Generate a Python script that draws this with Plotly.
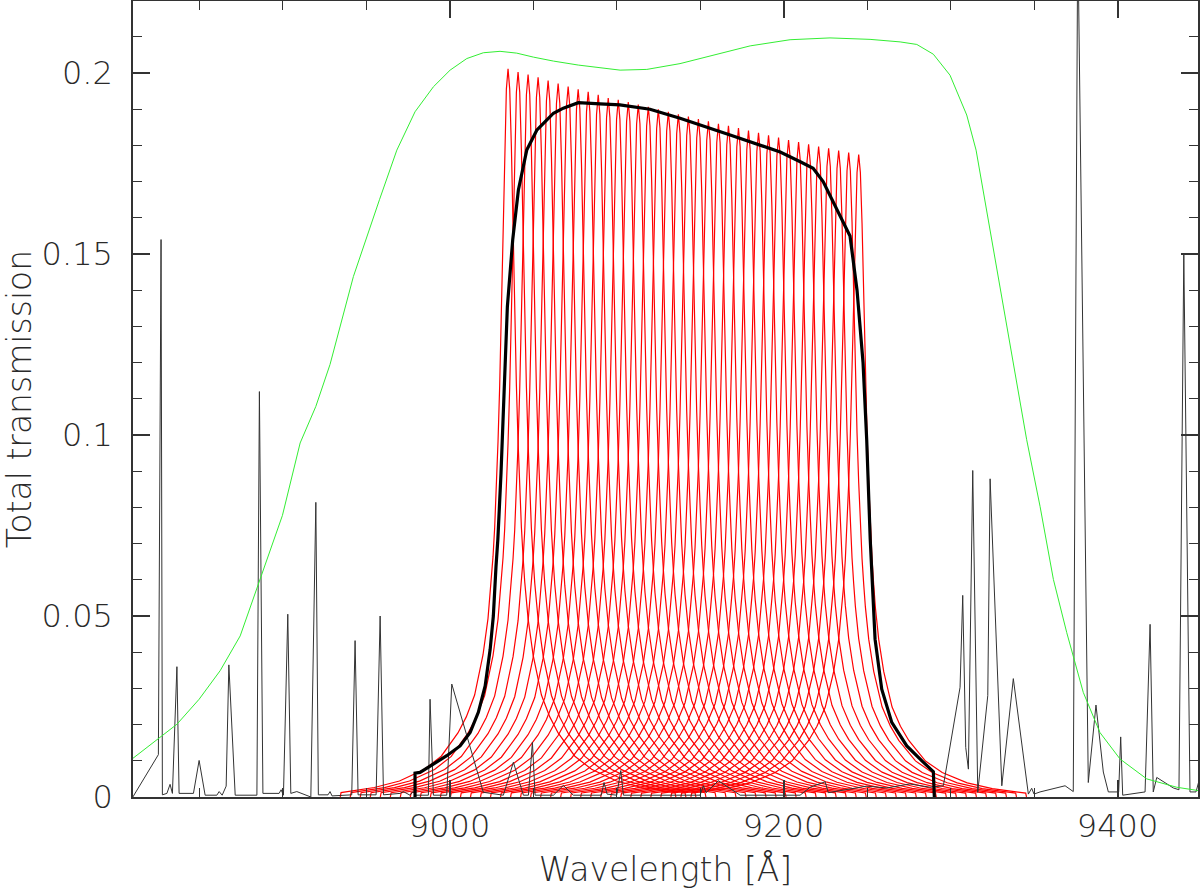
import plotly.graph_objects as go

# ---------------- data ----------------
# Sky emission spectrum (thin black line): wavelength [A], transmission-scaled value
sky_wave = [8810.3, 8825.6, 8827.2, 8828.0, 8830.7, 8832.6, 8834.0, 8836.7, 8838.0, 8846.6,
            8850.0, 8853.6, 8860.6, 8862.0, 8863.8, 8866.2, 8867.8, 8871.6, 8884.6, 8886.1,
            8888.2, 8897.9, 8899.1, 8900.5, 8903.1, 8904.9, 8908.5, 8916.9, 8919.9, 8921.4,
            8927.2, 8928.4, 8929.6, 8941.4, 8943.4, 8945.2, 8956.0, 8958.4, 8960.4, 8970.4,
            8972.3, 8976.3, 8978.1, 8979.9, 8987.3, 8988.3, 8990.3, 8998.3, 9001.3, 9020.2,
            9032.2, 9038.2, 9044.2, 9047.2, 9049.6, 9051.2, 9062.2, 9068.1, 9074.1, 9090.8,
            9092.5, 9094.3, 9100.1, 9102.5, 9104.1, 9150.0, 9152.0, 9153.6, 9161.0, 9174.0,
            9209.9, 9215.9, 9224.9, 9226.8, 9249.8, 9261.8, 9275.7, 9287.7, 9295.7, 9305.7,
            9307.3, 9309.1, 9310.7, 9313.3, 9316.3, 9322.3, 9323.7, 9330.7, 9337.6, 9346.6,
            9348.6, 9350.0, 9353.6, 9361.6, 9368.6, 9373.5, 9376.2, 9382.5, 9387.1, 9391.5,
            9394.5, 9400.7, 9401.9, 9403.1, 9416.5, 9419.5, 9421.4, 9423.5, 9433.4, 9436.8,
            9439.7, 9443.4, 9447.0, 9448.8]
sky_flux = [0.0, 0.0117, 0.154, 0.0006, 0.001, 0.0035, 0.001, 0.036, 0.001, 0.001,
            0.0101, 0.0005, 0.0005, 0.0015, 0.0005, 0.003, 0.0365, 0.0005, 0.0005, 0.112,
            0.001, 0.001, 0.002, 0.0005, 0.0505, 0.001, 0.0015, 0.0, 0.0814, 0.0006,
            0.0006, 0.0015, 0.0003, 0.0006, 0.0432, 0.0006, 0.0006, 0.050, 0.0006, 0.001,
            0.0015, 0.0005, 0.0015, 0.0005, 0.0005, 0.027, 0.0005, 0.0005, 0.0312, 0.0013,
            0.0005, 0.0096, 0.0005, 0.0005, 0.0151, 0.0005, 0.0005, 0.0032, 0.0005, 0.0005,
            0.004, 0.0008, 0.0005, 0.0073, 0.0005, 0.0005, 0.0031, 0.0012, 0.0045, 0.0005,
            0.0005, 0.0027, 0.0042, 0.0012, 0.003, 0.0025, 0.0036, 0.0027, 0.0031, 0.0303,
            0.0557, 0.0137, 0.0077, 0.0902, 0.0013, 0.028, 0.0879, 0.0031, 0.0327, 0.0008,
            0.0024, 0.0008, 0.0014, 0.0024, 0.0031, 0.0015, 0.240, 0.004, 0.0254, 0.0069,
            0.0014, 0.0014, 0.0166, 0.0005, 0.0014, 0.0477, 0.0014, 0.0054, 0.0025, 0.002,
            0.150, 0.0014, 0.0014, 0.0045]

# Order-sorter filter (green)
osf_wave = [8810.1, 8826.6, 8836.7, 8850.0, 8862.6, 8874.6, 8886.5, 8899.9, 8910.5, 8919.9,
            8928.4, 8942.4, 8958.0, 8968.4, 8979.3, 8990.3, 9000.3, 9010.3, 9020.2, 9030.2,
            9040.2, 9050.2, 9062.2, 9077.1, 9102.1, 9118.1, 9138.0, 9157.8, 9180.0, 9203.9,
            9227.8, 9251.8, 9269.8, 9279.8, 9289.7, 9299.7, 9309.7, 9315.3, 9323.7, 9332.6,
            9345.6, 9353.6, 9361.6, 9369.6, 9379.5, 9389.5, 9401.5, 9417.5, 9435.4, 9449.4]
osf_trans = [0.0106, 0.0165, 0.0201, 0.027, 0.0349, 0.0445, 0.0603, 0.0778, 0.0978, 0.1079,
             0.1195, 0.1438, 0.165, 0.1787, 0.1893, 0.1962, 0.2008, 0.204, 0.2056, 0.206,
             0.2055, 0.2044, 0.2033, 0.2022, 0.2008, 0.201, 0.2026, 0.2049, 0.2075, 0.2092,
             0.2097, 0.2093, 0.2086, 0.2079, 0.2052, 0.1994, 0.1884, 0.1787, 0.1566, 0.1329,
             0.0987, 0.0803, 0.0601, 0.0454, 0.0289, 0.0178, 0.0105, 0.005, 0.0027, 0.0017]

# Effective total transmission of the scan (thick black)
tot_wave = [8979.3, 8979.3, 8982.3, 8990.3, 8998.3, 9006.3, 9012.3, 9017.2, 9021.3, 9024.3,
            9026.2, 9027.8, 9028.9, 9030.8, 9032.8, 9034.6, 9037.8, 9041.2, 9046.2, 9052.2,
            9056.2, 9062.2, 9068.1, 9077.1, 9090.1, 9102.0, 9120.0, 9138.0, 9168.0, 9186.0,
            9198.0, 9210.0, 9217.7, 9223.7, 9227.8, 9230.8, 9239.8, 9244.0, 9247.6, 9249.8,
            9251.9, 9254.8, 9258.8, 9264.8, 9273.8, 9283.5, 9289.7, 9290.3]
tot_trans = [0.0, 0.0066, 0.0068, 0.0091, 0.0114, 0.0141, 0.0178, 0.0234, 0.0307, 0.0408,
             0.050, 0.0638, 0.0712, 0.0895, 0.1125, 0.1355, 0.1539, 0.1677, 0.1787, 0.1842,
             0.1861, 0.1889, 0.1903, 0.1918, 0.1915, 0.1912, 0.1900, 0.1875, 0.1829, 0.180,
             0.1782, 0.1755, 0.1737, 0.170, 0.1663, 0.1635, 0.155, 0.140, 0.120, 0.0987,
             0.0712, 0.0436, 0.0298, 0.0206, 0.0141, 0.0097, 0.0070, 0.0]

# Tunable-filter scan: peak wavelengths and peak transmissions (red)
tf_centers = [9035 + 6 * k for k in range(36)]
tf_peaks = [0.2012, 0.2003, 0.1996, 0.1988, 0.1979, 0.1971, 0.1963, 0.1955, 0.1948, 0.1940,
            0.1931, 0.1926, 0.1920, 0.1913, 0.1907, 0.1900, 0.1893, 0.1886, 0.1880, 0.1873,
            0.1867, 0.1860, 0.1854, 0.1848, 0.1841, 0.1835, 0.1828, 0.1822, 0.1815, 0.1809,
            0.1803, 0.1797, 0.1792, 0.1786, 0.1780, 0.1775]
# Relative profile of one tunable-filter passband (offset from peak in A)
prof_offset = [0, 1, 2, 3, 4, 5, 6, 7, 8, 9, 10, 12, 15, 20, 25, 30, 40, 50, 65, 80, 100, 100.5]
prof_rel = [1.0, 0.972, 0.893, 0.775, 0.662, 0.565, 0.488, 0.425, 0.37, 0.33, 0.295, 0.245,
            0.195, 0.14, 0.11, 0.088, 0.056, 0.038, 0.022, 0.013, 0.006, 0.0]

# ticks
x_major = [9000, 9200, 9400]
y_major = [0, 0.05, 0.1, 0.15, 0.2]
y_labels = ["0", "0.05", "0.1", "0.15", "0.2"]

# ---------------- build figure ----------------
off_full = [-o for o in prof_offset[::-1]] + prof_offset[1:]
rel_full = prof_rel[::-1] + prof_rel[1:]
rx, ry = [], []
for c, p in zip(tf_centers, tf_peaks):
    rx += [c + o for o in off_full] + [None]
    ry += [p * r for r in rel_full] + [None]

fig = go.Figure()
fig.add_trace(go.Scatter(x=rx, y=ry, mode="lines", line=dict(color="#ff0000", width=1.2),
                         hoverinfo="skip", showlegend=False))
fig.add_trace(go.Scatter(x=sky_wave, y=sky_flux, mode="lines",
                         line=dict(color="#333333", width=1), showlegend=False))
fig.add_trace(go.Scatter(x=tot_wave, y=tot_trans, mode="lines",
                         line=dict(color="#000000", width=3.2), showlegend=False))
fig.add_trace(go.Scatter(x=osf_wave, y=osf_trans, mode="lines",
                         line=dict(color="#33ee33", width=1), showlegend=False))

font = dict(family="DejaVu Sans, Liberation Sans, sans-serif", size=33, color="#2a2a2a",
            weight=200)
tfont = dict(family="DejaVu Sans, Liberation Sans, sans-serif", size=32, color="#2a2a2a",
             weight=200)

fig.update_layout(
    width=1200, height=895,
    margin=dict(l=133, r=2, t=1, b=98, autoexpand=False),
    paper_bgcolor="white", plot_bgcolor="white",
    font=font,
    showlegend=False,
)
fig.update_xaxes(
    automargin=False,
    range=[8810.4, 9448.2], showgrid=False, zeroline=False,
    showline=True, linecolor="#333333", linewidth=1.5, mirror="ticks",
    ticks="inside", ticklen=17, tickwidth=1.5, tickcolor="#333333",
    tickvals=x_major, ticktext=[str(v) for v in x_major],
    minor=dict(dtick=50, tick0=9000, ticks="inside", ticklen=9, tickwidth=1.2, tickcolor="#333333"),
    tickfont=tfont, ticklabelstandoff=0,
    title=dict(text="Wavelength [Å]", font=font, standoff=14),
)
fig.update_yaxes(
    automargin=False,
    range=[0, 0.2199], showgrid=False, zeroline=False,
    showline=True, linecolor="#333333", linewidth=1.5, mirror="ticks",
    ticks="inside", ticklen=17, tickwidth=1.5, tickcolor="#333333",
    tickvals=y_major, ticktext=y_labels,
    minor=dict(dtick=0.01, tick0=0, ticks="inside", ticklen=9, tickwidth=1.2, tickcolor="#333333"),
    tickfont=tfont, ticklabelstandoff=12,
    title=dict(text="Total transmission", font=font, standoff=8),
)

fig.write_html("out.html", config={"displayModeBar": False},
               post_script="document.body.style.margin='0';document.body.style.overflow='hidden';")
